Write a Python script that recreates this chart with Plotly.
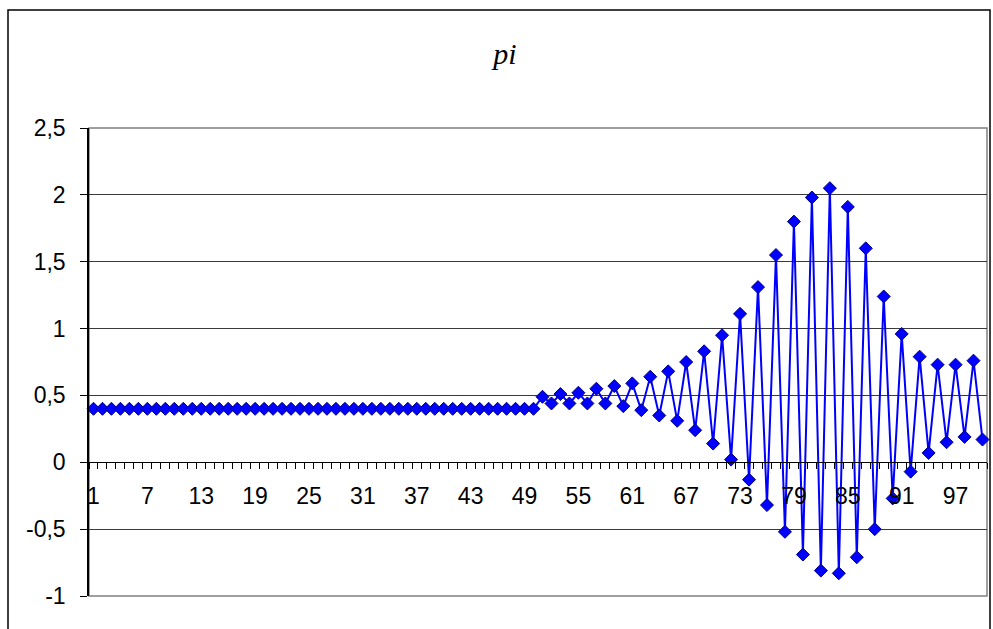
import plotly.graph_objects as go

# Series: 100 steps, flat until step 50, then a growing/decaying oscillation
steps = list(range(1, 101))
flat_part = [0.4] * 50
wave_part = [
    0.49, 0.44, 0.51, 0.44, 0.52, 0.44, 0.55, 0.44, 0.57, 0.42,
    0.59, 0.39, 0.64, 0.35, 0.68, 0.31, 0.75, 0.24, 0.83, 0.14,
    0.95, 0.02, 1.11, -0.13, 1.31, -0.32, 1.55, -0.52, 1.80, -0.69,
    1.98, -0.81, 2.05, -0.83, 1.91, -0.71, 1.60, -0.50, 1.24, -0.27,
    0.96, -0.07, 0.79, 0.07, 0.73, 0.15, 0.73, 0.19, 0.76, 0.17,
]
values = flat_part + wave_part

x_label_steps = list(range(1, 101, 6))
y_tick_values = [-1, -0.5, 0, 0.5, 1, 1.5, 2, 2.5]
y_tick_labels = ["-1", "-0,5", "0", "0,5", "1", "1,5", "2", "2,5"]

W, H = 993, 629
L, R, T, B = 89, 987, 128, 596
Y_MIN, Y_MAX = -1, 2.5

fig = go.Figure()
fig.add_trace(go.Scatter(
    x=steps, y=values, mode="lines+markers",
    line=dict(color="#0000FF", width=2),
    marker=dict(symbol="diamond", size=10, color="#0000FF",
                line=dict(color="#000080", width=1)),
    showlegend=False, cliponaxis=False,
))

font_main = dict(family="Liberation Sans, Arial, sans-serif", size=23, color="black")

fig.update_layout(
    width=W, height=H,
    margin=dict(l=L, r=W - R, t=T, b=H - B, pad=0),
    paper_bgcolor="white", plot_bgcolor="white",
    title=dict(text="<i>pi</i>", x=505 / W, xref="container",
               y=1 - 53 / H, yref="container", xanchor="center", yanchor="middle",
               font=dict(family="Liberation Serif, Times New Roman, serif", size=30, color="black")),
    xaxis=dict(
        range=[0.5, 100.5], anchor="free",
        position=(0 - Y_MIN) / (Y_MAX - Y_MIN),
        showgrid=False, zeroline=False,
        showline=True, linecolor="black", linewidth=1,
        tickmode="array", tickvals=x_label_steps,
        ticktext=[str(v) for v in x_label_steps],
        ticks="outside", ticklen=13, tickcolor="rgba(0,0,0,0)",
        tickfont=font_main,
        minor=dict(tickmode="array", tickvals=[s + 0.5 for s in [0] + steps],
                   ticks="outside", ticklen=6, tickcolor="black", tickwidth=1,
                   showgrid=False),
    ),
    yaxis=dict(
        range=[Y_MIN, Y_MAX],
        tickmode="array", tickvals=y_tick_values, ticktext=y_tick_labels,
        showgrid=True, gridcolor="#3a3a3a", gridwidth=1, zeroline=False,
        showline=True, linecolor="black", linewidth=1.5,
        ticks="outside", ticklen=7, tickcolor="black",
        ticklabelstandoff=10,
        tickfont=font_main,
    ),
)

def px_x(p):
    return (p - L) / (R - L)

def px_y(p):
    return (B - p) / (B - T)

# gray plot-area frame
fig.add_shape(type="rect", xref="paper", yref="paper", x0=0, x1=1, y0=0, y1=1,
              line=dict(color="#808080", width=1.5), layer="below")
# outer chart frame
fig.add_shape(type="rect", xref="paper", yref="paper",
              x0=px_x(8), x1=px_x(990), y0=px_y(650), y1=px_y(10),
              line=dict(color="black", width=1.5), layer="below")

fig.write_html("out.html")
